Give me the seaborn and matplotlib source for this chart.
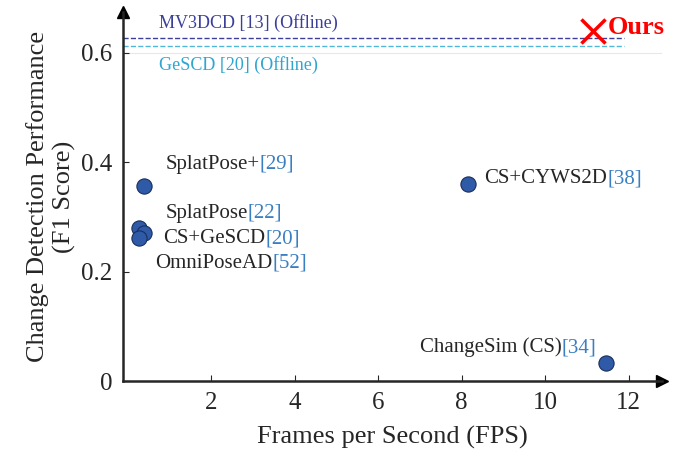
import matplotlib
matplotlib.use("Agg")
import matplotlib.pyplot as plt
import seaborn as sns
import pandas as pd

# data
methods = ["SplatPose+", "SplatPose", "CS+GeSCD", "OmniPoseAD", "CS+CYWS2D", "ChangeSim (CS)"]
refs = ["[29]", "[22]", "[20]", "[52]", "[38]", "[34]"]
fps = [0.38, 0.28, 0.40, 0.26, 8.15, 11.45]
f1 = [0.357, 0.280, 0.270, 0.262, 0.360, 0.033]
ours_fps, ours_f1 = 11.15, 0.640
mv3dcd_f1 = 0.626
gescd_f1 = 0.612

# label positions (data coords) for the text
label_pos = [(0.9, 0.396), (0.9, 0.307), (0.85, 0.260), (0.65, 0.216), (8.55, 0.370), (7.0, 0.062)]

sns.set_style("white")
plt.rcParams["font.family"] = ["Liberation Serif", "DejaVu Serif"]
blue = "#3a7fc1"

fig, ax = plt.subplots(figsize=(6.86, 4.65), dpi=100)
df = pd.DataFrame({"fps": fps, "f1": f1})
sns.scatterplot(data=df, x="fps", y="f1", ax=ax, s=120, color="#2f5aa8",
                edgecolor="#1a2f5a", linewidth=0.8, zorder=3)

ax.axhline(mv3dcd_f1, xmax=0.93, color="#3b3f9a", ls="--", lw=1)
ax.axhline(gescd_f1, xmax=0.93, color="#4fb8d8", ls="--", lw=1)
ax.axhline(0.6, color="#e8e8e8", lw=0.8, zorder=0)
ax.text(0.75, 0.655, "MV3DCD [13] (Offline)", color="#3b3f9a", fontsize=13, va="center")
ax.text(0.75, 0.578, "GeSCD [20] (Offline)", color="#2fa6cf", fontsize=13, va="center")
ax.scatter([ours_fps], [ours_f1], marker="x", s=300, color="red", linewidths=2.5, zorder=4)
ax.text(ours_fps + 0.35, ours_f1 + 0.006, "Ours", color="red", fontsize=19,
        fontweight="bold", va="center")

for m, r, (lx, ly) in zip(methods, refs, label_pos):
    t = ax.text(lx, ly, m, fontsize=15, va="center")
    ax.annotate(r, xy=(1, 0), xycoords=t, va="bottom", fontsize=15, color=blue)

ax.set_xlim(-0.1, 12.8)
ax.set_ylim(0, 0.675)
ax.set_xticks([2, 4, 6, 8, 10, 12])
ax.set_yticks([0, 0.2, 0.4, 0.6])
ax.set_yticklabels(["0", "0.2", "0.4", "0.6"])
ax.tick_params(labelsize=18, direction="in", length=4, bottom=True, left=True, pad=8)
ax.set_xlabel("Frames per Second (FPS)", fontsize=19, labelpad=8)
ax.set_ylabel("Change Detection Performance\n(F1 Score)", fontsize=19)

for s in ["top", "right"]:
    ax.spines[s].set_visible(False)
for s in ["left", "bottom"]:
    ax.spines[s].set_linewidth(1.8)
ax.plot(1, 0, ">k", ms=8, transform=ax.transAxes, clip_on=False)
ax.plot(0, 1, "^k", ms=8, transform=ax.transAxes, clip_on=False)

plt.subplots_adjust(left=0.18, right=0.965, top=0.975, bottom=0.18)
plt.savefig("out.png", dpi=100)
